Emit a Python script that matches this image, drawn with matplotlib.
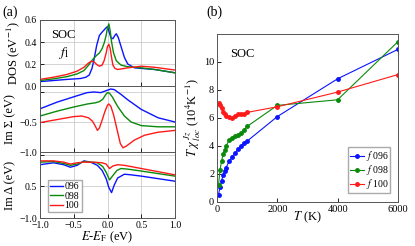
import matplotlib.pyplot as plt

plt.rcParams['font.family'] = ['Liberation Serif', 'DejaVu Serif']
plt.rcParams['mathtext.fontset'] = 'stix'

labels = ['096', '098', '100']
colors = ['#0a14ff', '#0a8a0a', '#ff1a1a']

# panel (a), DOS
dos_e = [[-1.0, -0.8, -0.6, -0.4, -0.32, -0.27, -0.23, -0.2, -0.16, -0.12, -0.08, -0.05, -0.02, 0.0, 0.02, 0.05, 0.08, 0.11, 0.13, 0.16, 0.2, 0.25, 0.3, 0.4, 0.5, 0.7, 0.85, 1.0],
         [-1.0, -0.8, -0.6, -0.45, -0.35, -0.28, -0.22, -0.16, -0.12, -0.08, -0.05, -0.02, 0.0, 0.02, 0.04, 0.06, 0.09, 0.13, 0.2, 0.3, 0.5, 0.7, 1.0],
         [-1.0, -0.8, -0.6, -0.45, -0.35, -0.28, -0.24, -0.2, -0.16, -0.12, -0.08, -0.05, -0.02, 0.0, 0.02, 0.04, 0.06, 0.08, 0.11, 0.15, 0.2, 0.3, 0.5, 0.7, 1.0]]
dos_v = [[0.04, 0.05, 0.06, 0.068, 0.08, 0.1, 0.16, 0.24, 0.37, 0.46, 0.49, 0.51, 0.53, 0.54, 0.5, 0.44, 0.43, 0.46, 0.475, 0.44, 0.36, 0.26, 0.2, 0.165, 0.16, 0.15, 0.135, 0.12],
         [0.05, 0.065, 0.085, 0.11, 0.14, 0.19, 0.24, 0.28, 0.3, 0.34, 0.39, 0.46, 0.53, 0.565, 0.5, 0.4, 0.3, 0.23, 0.19, 0.175, 0.165, 0.15, 0.12],
         [0.06, 0.08, 0.105, 0.135, 0.17, 0.21, 0.225, 0.22, 0.195, 0.18, 0.19, 0.23, 0.3, 0.36, 0.38, 0.34, 0.26, 0.19, 0.16, 0.15, 0.155, 0.165, 0.18, 0.17, 0.145]]

# panel (a), Im Sigma
sig_e = [[-1.0, -0.75, -0.5, -0.3, -0.2, -0.1, 0.0, 0.05, 0.1, 0.2, 0.3, 0.5, 0.75, 1.0],
         [-1.0, -0.75, -0.5, -0.3, -0.18, -0.12, -0.07, -0.03, 0.0, 0.03, 0.07, 0.15, 0.25, 0.35, 0.5, 0.75, 1.0],
         [-1.0, -0.75, -0.5, -0.38, -0.28, -0.22, -0.18, -0.15, -0.12, -0.08, -0.04, 0.0, 0.02, 0.05, 0.09, 0.14, 0.19, 0.23, 0.28, 0.4, 0.55, 0.75, 1.0]]
sig_v = [[-0.28, -0.17, -0.08, -0.01, 0.0, -0.01, 0.03, 0.05, 0.04, -0.04, -0.13, -0.29, -0.43, -0.5],
         [-0.4, -0.32, -0.25, -0.2, -0.18, -0.16, -0.12, -0.05, -0.01, -0.02, -0.08, -0.24, -0.4, -0.5, -0.56, -0.58, -0.58],
         [-0.51, -0.46, -0.41, -0.4, -0.43, -0.49, -0.57, -0.64, -0.6, -0.47, -0.33, -0.22, -0.2, -0.24, -0.38, -0.62, -0.86, -0.93, -0.9, -0.8, -0.72, -0.67, -0.64]]

# panel (a), Im Delta
del_e = [[-1.0, -0.8, -0.65, -0.55, -0.45, -0.35, -0.25, -0.15, -0.08, -0.02, 0.02, 0.06, 0.1, 0.15, 0.25, 0.35, 0.5, 0.75, 1.0],
         [-1.0, -0.8, -0.65, -0.55, -0.45, -0.35, -0.25, -0.15, -0.07, -0.02, 0.03, 0.08, 0.14, 0.2, 0.3, 0.5, 0.75, 1.0],
         [-1.0, -0.8, -0.65, -0.55, -0.45, -0.35, -0.2, -0.08, -0.02, 0.03, 0.08, 0.15, 0.25, 0.5, 0.75, 1.0]]
del_v = [[-0.16, -0.13, -0.16, -0.2, -0.17, -0.1, -0.12, -0.17, -0.25, -0.38, -0.52, -0.6, -0.48, -0.37, -0.31, -0.32, -0.34, -0.38, -0.42],
         [-0.12, -0.11, -0.14, -0.17, -0.15, -0.11, -0.12, -0.13, -0.19, -0.28, -0.4, -0.33, -0.25, -0.22, -0.23, -0.26, -0.3, -0.34],
         [-0.1, -0.1, -0.12, -0.15, -0.13, -0.12, -0.12, -0.13, -0.15, -0.22, -0.18, -0.16, -0.17, -0.22, -0.27, -0.32]]

# panel (b)
temp = [50, 100, 150, 200, 250, 300, 400, 500, 600, 700, 800, 900, 1000, 2000, 4000, 6000]
chi = [[0.5, 1.1, 1.5, 1.9, 2.2, 2.45, 2.9, 3.2, 3.5, 3.8, 4.0, 4.2, 4.35, 6.1, 8.8, 10.9],
       [1.2, 2.3, 2.9, 3.4, 3.7, 4.0, 4.4, 4.6, 4.7, 4.8, 4.95, 5.15, 5.4, 6.9, 7.3, 11.45],
       [7.1, 6.95, 6.7, 6.45, 6.3, 6.15, 6.05, 6.0, 6.15, 6.25, 6.25, 6.3, 6.4, 6.8, 7.85, 9.1]]

fig = plt.figure(figsize=(4.15, 2.46), dpi=100)
x0, w, h = 0.0964, 0.3253, 0.2683
ax1 = fig.add_axes([x0, 0.6504, w, h])
ax2 = fig.add_axes([x0, 0.3821, w, h])
ax3 = fig.add_axes([x0, 0.1138, w, h])

for i in range(3):
    ax1.plot(dos_e[i], dos_v[i], color=colors[i], lw=1.0)
    ax2.plot(sig_e[i], sig_v[i], color=colors[i], lw=1.0)
    ax3.plot(del_e[i], del_v[i], color=colors[i], lw=1.0, label=labels[i])

for ax in (ax1, ax2, ax3):
    ax.set_xlim(-1.0, 1.0)
    ax.set_xticks([-1.0, -0.5, 0.0, 0.5, 1.0])
    ax.grid(True, color='#cccccc', lw=0.6)
    ax.tick_params(labelsize=7, direction='in', length=3, width=0.6, pad=2)
    for s in ax.spines.values():
        s.set_color('#555555')
        s.set_linewidth(0.7)
ax1.set_ylim(0.0, 0.6)
ax1.set_yticks([0.0, 0.2, 0.4, 0.6])
ax2.set_ylim(-1.0, 0.1)
ax2.set_yticks([-1.0, -0.5, 0.0])
ax2.set_yticklabels(['\u22121.0', '\u22120.5', ''])
ax3.set_ylim(-1.0, 0.04)
ax3.set_yticks([-1.0, -0.5, 0.0])
ax3.set_yticklabels(['\u22121.0', '0.5', ''])
ax1.tick_params(labelbottom=False)
ax2.tick_params(labelbottom=False)

ax1.set_ylabel('DOS (eV$^{-1}$)', fontsize=9, labelpad=2)
ax2.set_ylabel('Im \u03a3 (eV)', fontsize=9, labelpad=2)
ax3.set_ylabel('Im \u0394 (eV)', fontsize=9, labelpad=2)
ax3.set_xlabel('$E$-$E_{\\rm F}$ (eV)', fontsize=9, labelpad=0)
ax1.text(0.08, 0.72, 'SOC', transform=ax1.transAxes, fontsize=9)
ax1.text(0.13, 0.46, '$f_1$', transform=ax1.transAxes, fontsize=10)
ax3.legend(loc='lower left', bbox_to_anchor=(0.02, 0.01), fontsize=7,
           handlelength=1.3, handletextpad=0.2, borderpad=0.25, labelspacing=0.05,
           framealpha=1, edgecolor='#aaaaaa', fancybox=False)

axb = fig.add_axes([0.5229, 0.1789, 0.436, 0.683])
for i in range(3):
    axb.plot(temp, chi[i], color=colors[i], lw=0.8, marker='o', ms=2.5,
             label='$f$ ' + labels[i])
axb.set_xlim(0, 6000)
axb.set_ylim(0, 12)
axb.set_xticks([0, 2000, 4000, 6000])
axb.set_yticks([0, 2, 4, 6, 8, 10])
axb.tick_params(labelsize=7.5, direction='in', length=3, width=0.6, pad=2)
for s in axb.spines.values():
    s.set_color('#555555')
    s.set_linewidth(0.7)
axb.set_xlabel('$T$ (K)', fontsize=9, labelpad=-3)
axb.set_ylabel('$T\\ \\chi^{\\,Jz}_{\\,loc}$ (10$^4$K$^{-1}$)', fontsize=9, labelpad=1)
axb.text(0.07, 0.86, 'SOC', transform=axb.transAxes, fontsize=9)
axb.legend(loc='lower right', bbox_to_anchor=(0.985, 0.025), fontsize=7,
           handlelength=1.4, handletextpad=0.2, borderpad=0.2, labelspacing=0.0,
           framealpha=1, edgecolor='#aaaaaa', fancybox=False)

fig.text(0.005, 0.935, '(a)', fontsize=10)
fig.text(0.497, 0.935, '(b)', fontsize=10)

fig.savefig('out.png', dpi=100)
